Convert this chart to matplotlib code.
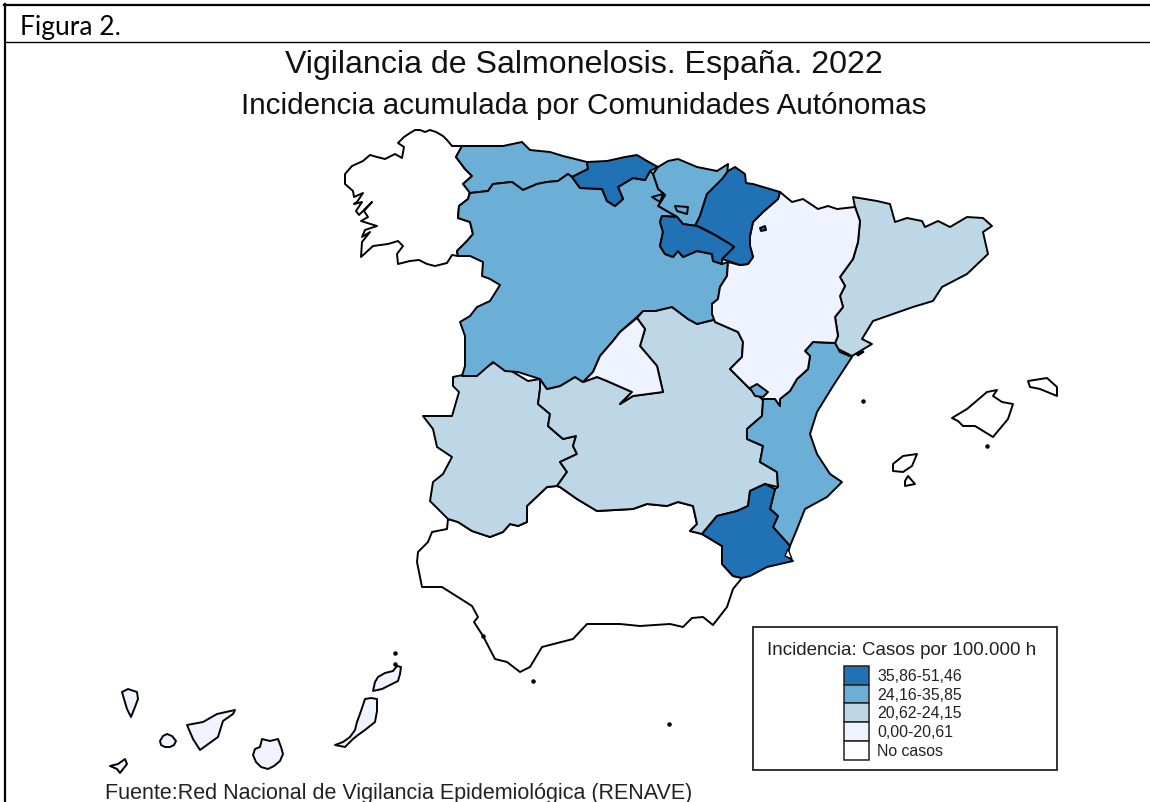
import matplotlib
matplotlib.use('Agg')
import matplotlib.pyplot as plt
from matplotlib.patches import Rectangle

# outlines, in image pixels
galicia = [(452,147),(447,141),(443,137),(436,133),(430,131),(425,133),(420,131),(415,131),(410,134),(404,138),(398,144),(404,148),
           (402,159),(395,155),(385,160),(377,158),(370,156),(363,162),(352,167),(345,175),(345,185),(353,192),(354,198),
           (363,194),(357,203),(354,205),(362,203),(356,212),(359,216),(372,203),(364,212),(368,218),(361,222),(377,227),
           (365,231),(362,238),(370,233),(362,243),(361,258),(373,247),(388,245),(398,242),(403,247),(397,255),
           (398,265),(410,262),(419,261),(427,265),(435,267),(447,264),(452,256),(458,257),(457,252),(467,242),(473,235),(470,223),
           (458,219),(459,207),(468,200),(470,192),(463,185),(472,177),(465,170),(456,158),(462,147)]
asturias = [(462,147),(477,147),(503,147),(522,143),(530,151),(550,153),(563,157),(587,163),(588,170),(572,178),(568,175),
            (558,182),(547,183),(537,185),(523,191),(512,183),(493,185),(488,192),(470,194),(463,185),(472,177),(465,170),
            (456,158)]
cantabria = [(587,163),(607,162),(625,158),(637,156),(647,162),(658,168),(650,172),(645,181),(633,179),(618,188),(623,200),
             (615,207),(607,202),(602,190),(580,189),(572,178),(588,170)]
pais_vasco = [(658,168),(668,162),(678,160),(697,168),(717,172),(728,165),(727,178),(707,195),(700,217),(695,227),(683,225),
              (677,218),(658,207),(665,196),(658,190),(653,175)]
trevino = [(675,207),(688,208),(687,215),(677,212)]
villaverde = [(652,198),(663,195),(660,203)]
navarra = [(722,180),(728,172),(735,168),(745,175),(746,184),(753,185),(780,193),(778,200),(763,213),(753,223),(750,237),
           (750,247),(753,258),(748,265),(740,266),(728,262),(722,260),(734,248),(717,237),(700,228),(695,227),(700,217),
           (707,195)]
petilla = [(760,229),(765,227),(766,231),(761,232)]
la_rioja = [(662,217),(677,218),(683,225),(697,227),(713,235),(730,245),(734,248),(722,260),(722,265),(713,262),(712,255),
            (697,252),(683,258),(678,252),(673,258),(665,255),(660,247),(663,233),(660,223)]
castilla_leon = [(470,194),(488,192),(493,185),(512,183),(523,191),(537,185),(547,183),(558,182),(568,175),(572,178),(580,189),
                 (602,190),(607,202),(615,207),(623,200),(618,188),(633,179),(645,181),(650,172),(653,175),(658,190),(665,196),
                 (658,207),(677,218),(662,217),(660,223),(663,233),(660,247),(665,255),(673,258),(678,252),(683,258),(697,252),
                 (712,255),(713,262),(722,265),(728,263),(727,277),(720,288),(718,300),(712,305),(712,315),(717,320),(697,325),
                 (688,320),(672,308),(655,312),(643,312),(637,318),(620,333),(613,342),(600,357),(593,373),(583,383),(575,378),
                 (560,387),(547,390),(540,380),(518,373),(505,372),(493,363),(477,377),(462,377),(465,367),(465,337),(460,323),
                 (470,317),(477,308),(490,302),(500,286),(490,280),(482,277),(483,263),(470,257),(458,257),(457,252),(467,242),
                 (473,235),(470,223),(458,219),(459,207),(468,200)]
madrid = [(637,319),(645,330),(640,347),(657,367),(663,393),(633,397),(620,405),(632,393),(607,382),(597,378),(583,383),
          (593,373),(600,357),(613,342),(620,333)]
castilla_mancha = [(540,380),(547,390),(560,387),(575,378),(583,383),(597,378),(607,382),(632,393),(620,405),(633,397),(663,393),
                   (657,367),(640,347),(645,330),(637,319),(643,312),(655,312),(672,308),(688,320),(697,325),(717,320),(715,323),
                   (738,333),(743,343),(742,358),(730,370),(742,382),(750,390),(762,398),(763,402),(762,417),(747,430),(747,440),
                   (763,447),(760,463),(777,473),(778,488),(765,485),(750,492),(748,507),(737,512),(717,517),(702,535),(690,532),
                   (697,525),(693,507),(678,503),(667,507),(647,505),(633,510),(597,512),(577,500),(560,488),(557,487),(567,473),
                   (560,463),(577,455),(573,447),(576,437),(563,440),(548,427),(550,415),(538,405),(540,390)]
extremadura = [(540,380),(528,382),(513,373),(495,363),(477,373),(453,378),(453,387),(459,393),(452,417),(423,417),(433,430),
               (437,448),(452,458),(443,475),(433,483),(430,502),(448,520),(458,523),(472,532),(490,538),(503,533),(510,525),
               (518,527),(527,523),(527,507),(547,488),(557,487),(567,473),(560,463),(577,455),(573,447),(576,437),(563,440),
               (548,427),(550,415),(538,405),(540,390)]
andalucia = [(448,520),(447,530),(432,533),(428,543),(418,553),(417,563),(422,588),(442,588),(472,607),(478,618),(474,623),
             (483,637),(495,660),(507,663),(520,673),(530,668),(542,648),(573,640),(587,625),(620,625),(640,627),(670,625),
             (683,628),(692,619),(703,618),(713,626),(727,608),(733,590),(742,579),(733,577),(722,565),(722,547),(702,535),
             (690,532),(697,525),(693,507),(678,503),(667,507),(647,505),(633,510),(597,512),(577,500),(560,488),(557,487),
             (547,488),(527,507),(527,523),(518,527),(510,525),(503,533),(490,538),(472,532),(458,523)]
murcia = [(702,535),(717,517),(737,512),(748,507),(750,492),(765,485),(775,490),(770,510),(778,517),(773,528),(790,547),
          (787,557),(793,562),(767,568),(750,577),(742,579),(733,577),(722,565),(722,547)]
mar_menor = [(788,550),(792,560),(785,557)]
valencia = [(835,344),(813,343),(805,352),(810,357),(808,370),(797,380),(790,392),(780,400),(780,407),(775,400),(762,400),
            (763,402),(762,417),(747,430),(747,440),(763,447),(760,463),(777,473),(778,488),(775,490),(770,510),(778,517),
            (773,528),(790,547),(797,530),(805,510),(827,498),(842,483),(830,475),(817,455),(810,435),(817,413),(833,387),
            (852,358),(840,353)]
ademuz = [(750,389),(757,385),(768,393),(763,398),(755,397)]
aragon = [(780,193),(792,203),(803,200),(818,210),(828,207),(837,210),(855,208),(860,222),(858,243),(853,260),(840,278),
          (845,287),(840,297),(843,308),(835,318),(838,337),(835,344),(813,343),(805,352),(810,357),(808,370),(797,380),
          (790,392),(780,400),(780,407),(775,400),(762,400),(750,390),(742,382),(730,370),(742,358),(743,343),(738,333),
          (715,323),(712,315),(712,305),(718,300),(720,288),(727,277),(728,263),(740,266),(748,265),(753,258),(750,247),
          (750,237),(753,223),(763,213),(778,200)]
cataluna = [(835,344),(838,337),(835,318),(843,308),(840,297),(845,287),(840,278),(853,260),(858,243),(860,222),(855,208),
            (853,198),(877,202),(890,205),(895,223),(907,219),(922,222),(925,228),(938,222),(950,228),(967,218),(983,219),
            (992,227),(983,233),(988,255),(967,275),(942,288),(933,302),(913,308),(873,322),(862,340),(872,345),(852,357),
            (838,350)]
ebro_delta = [(856,355),(862,351),(864,353),(858,357)]
mallorca = [(952,419),(967,410),(987,393),(997,391),(993,397),(1002,403),(1013,405),(1008,420),(993,438),(975,427),(963,427),(958,422)]
menorca = [(1028,382),(1047,379),(1057,388),(1057,397),(1040,390),(1030,388)]
ibiza = [(893,465),(903,457),(917,455),(912,467),(903,473),(893,472)]
formentera = [(905,482),(908,477),(915,485),(905,487)]
la_palma = [(122,693),(128,690),(137,693),(138,700),(135,708),(131,718),(127,710),(124,700)]
la_gomera = [(160,742),(163,737),(167,735),(172,737),(176,742),(174,746),(170,748),(165,748),(161,746)]
el_hierro = [(110,767),(118,765),(125,760),(127,765),(120,774),(117,770)]
tenerife = [(187,726),(203,723),(217,715),(235,711),(233,715),(223,722),(218,738),(200,751),(193,740)]
gran_canaria = [(262,740),(270,742),(278,740),(281,748),(283,755),(280,762),(274,767),(268,770),(261,768),(256,763),(253,756),(255,750),(260,748)]
fuerteventura = [(365,700),(371,699),(377,700),(377,712),(375,723),(365,731),(358,736),(353,740),(345,748),(335,746),(343,743),(350,738),(355,731),(357,723),(361,712)]
lanzarote = [(373,692),(375,683),(378,678),(385,674),(393,672),(397,667),(401,668),(400,675),(398,682),(390,686),(382,690)]
islets_x = [863, 987, 669, 533, 395, 395, 483]
islets_y = [402, 447, 725, 682, 654, 665, 637]

legend_labels = ['35,86-51,46', '24,16-35,85', '20,62-24,15', '0,00-20,61', 'No casos']
legend_colors = ['#2171b5', '#6baed6', '#bdd7e7', '#eff3ff', '#ffffff']

class_1 = [cantabria, navarra, petilla, la_rioja, murcia]
class_2 = [asturias, pais_vasco, castilla_leon, valencia]
class_3 = [extremadura, castilla_mancha, cataluna]
class_4 = [madrid, aragon, la_palma, la_gomera, el_hierro, tenerife, gran_canaria, fuerteventura, lanzarote]
class_5 = [galicia, andalucia, mallorca, menorca, ibiza, formentera]
enclaves = [trevino, villaverde, ademuz]

fig = plt.figure(figsize=(11.5, 8.03), dpi=100)
ax = fig.add_axes([0, 0, 1, 1])
ax.set_xlim(0, 1150)
ax.set_ylim(803, 0)
ax.axis('off')

# table frame around the figure, open on the right
ax.plot([4, 1150], [5.5, 5.5], color='black', lw=1.6)
ax.plot([5, 5], [5, 803], color='black', lw=1.6)
ax.plot([5, 1150], [43, 43], color='black', lw=1.0)
ax.text(20, 27, 'Figura 2.', family='Lato', fontsize=19, va='center', color='black')

ax.text(584, 65, 'Vigilancia de Salmonelosis. España. 2022', family='Liberation Sans', fontsize=23.1,
        ha='center', va='center', color='#111111')
ax.text(584, 106, 'Incidencia acumulada por Comunidades Autónomas', family='Liberation Sans', fontsize=21.3,
        ha='center', va='center', color='#111111')

# order matters: enclaves have to go over their parents
for polys, color in zip([class_5, class_3, class_2, class_4, class_1, enclaves],
                        ['#ffffff', '#bdd7e7', '#6baed6', '#eff3ff', '#2171b5', '#6baed6']):
    for poly in polys:
        xs, ys = zip(*poly)
        ax.fill(xs, ys, facecolor=color, edgecolor='black', lw=1.4, joinstyle='round')
xs, ys = zip(*mar_menor)
ax.fill(xs, ys, facecolor='white', edgecolor='black', lw=1.0)
xs, ys = zip(*ebro_delta)
ax.fill(xs, ys, facecolor='black', edgecolor='black', lw=0.8)
ax.scatter(islets_x, islets_y, s=5, color='black', zorder=3)

# legend
ax.add_patch(Rectangle((753, 628), 304, 143, facecolor='white', edgecolor='#222222', lw=1.3))
ax.text(767, 651, 'Incidencia: Casos por 100.000 h', family='Liberation Sans', fontsize=13.5, va='center', color='#222222')
for i, (label, color) in enumerate(zip(legend_labels, legend_colors)):
    y = 667 + i * 18.7
    ax.add_patch(Rectangle((844, y), 25, 18.7, facecolor=color, edgecolor='#222222', lw=1.1))
    ax.text(877, y + 9.6, label, family='Liberation Sans', fontsize=11.4, va='center', color='#222222')

ax.text(105, 794, 'Fuente:Red Nacional de Vigilancia Epidemiológica (RENAVE)', family='Liberation Sans', fontsize=15.5,
        va='center', color='#222222')

fig.savefig('out.png', dpi=100)
